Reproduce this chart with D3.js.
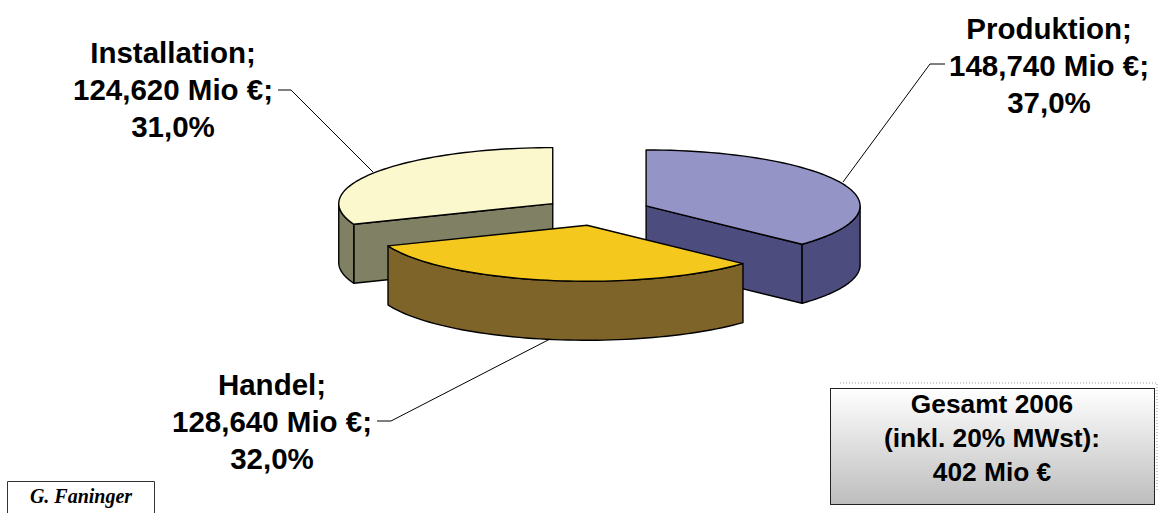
<!DOCTYPE html>
<html>
<head>
<meta charset="utf-8">
<script src="https://cdn.jsdelivr.net/npm/d3@7"></script>
<style>
html, body { margin: 0; background: #fff; }
svg { display: block; }
.label { font-family: "Liberation Sans", Arial, sans-serif; font-weight: bold; font-size: 29.5px; fill: #000; }
.total { font-family: "Liberation Sans", Arial, sans-serif; font-weight: bold; font-size: 26.3px; fill: #000; }
.author { font-family: "Liberation Serif", serif; font-weight: bold; font-style: italic; font-size: 20px; fill: #000; }
</style>
</head>
<body>
<svg id="chart" width="1159" height="513"></svg>
<script>
"use strict";

var categories = ["Produktion", "Handel", "Installation"],
    amounts = [148.740, 128.640, 124.620],
    amountLabels = ["148,740 Mio €;", "128,640 Mio €;", "124,620 Mio €;"],
    shareLabels = ["37,0%", "32,0%", "31,0%"],
    totalLines = ["Gesamt 2006", "(inkl. 20% MWst):", "402 Mio €"],
    authorName = "G. Faninger",

    topColours = ["#9594c7", "#f5c81e", "#fbf8cd"],
    sideColours = ["#4c4c7e", "#7f642a", "#808065"],

    centreX = 597,
    centreY = 211.5,
    radiusX = 214,
    radiusY = 56,
    depth = 59,
    explode = 0.25;

var svg = d3.select("#chart"),
    defs = svg.append("defs"),

    // unit circle onto the flattened pie
    xScale = d3.scaleLinear().domain([-1, 1]).range([centreX - radiusX, centreX + radiusX]),
    yScale = d3.scaleLinear().domain([-1, 1]).range([centreY - radiusY, centreY + radiusY]),

    slices = d3.pie().sort(null)(amounts);

var rim = function(angle, r) {
    return [Math.sin(angle) * r, -Math.cos(angle) * r];
};

var arcPoints = function(from, to) {
    var steps = 60;
    return d3.range(steps + 1).map(function(i) {
        return rim(from + (to - from) * i / steps, 1);
    });
};

var toPath = function(points, offset, dy) {
    return d3.line()
        .x(function(p) { return xScale(p[0] + offset[0]); })
        .y(function(p) { return yScale(p[1] + offset[1]) + dy; })(points);
};

var pieGroup = svg.append("g")
        .attr("stroke", "#000")
        .attr("stroke-width", 1.4)
        .attr("stroke-linejoin", "round");

var drawSlice = function(d) {
    var i = d.index,
        mid = (d.startAngle + d.endAngle) / 2,
        offset = rim(mid, explode),
        g = pieGroup.append("g"),
        apex = [[0, 0]];

    // radial walls, only the ones that face the viewer
    [d.startAngle, d.endAngle].forEach(function(a) {
        var edge = rim(a, 1);
        if (edge[1] < -0.99) return;
        if ((a === d.endAngle && Math.sin(a) > 0) || (a === d.startAngle && Math.sin(a) < 0)) {
            var top = apex.concat([edge]);
            g.append("path")
                .attr("fill", sideColours[i])
                .attr("d", toPath(top, offset, 0) + "L" + toPath(top.slice().reverse(), offset, depth).slice(1) + "Z");
        }
    });

    // outer wall, front half of the rim
    var from = Math.max(d.startAngle, Math.PI / 2),
        to = Math.min(d.endAngle, Math.PI * 1.5);
    if (from < to) {
        var outer = arcPoints(from, to);
        g.append("path")
            .attr("fill", sideColours[i])
            .attr("d", toPath(outer, offset, 0) + "L" + toPath(outer.slice().reverse(), offset, depth).slice(1) + "Z");
    }

    g.append("path")
        .attr("fill", topColours[i])
        .attr("d", toPath(apex.concat(arcPoints(d.startAngle, d.endAngle)), offset, 0) + "Z");
};

// back slices first, Handel sits in front
[slices[0], slices[2], slices[1]].forEach(drawSlice);

var leaderData = [
    [[843, 182], [930, 64], [945, 64]],
    [[550, 339], [391, 421], [377, 421]],
    [[373, 172], [291, 90], [278, 90]]
];

svg.append("g").selectAll("path")
    .data(leaderData)
    .join("path")
    .attr("fill", "none")
    .attr("stroke", "#000")
    .attr("stroke-width", 1)
    .attr("d", d3.line());

var labelAnchors = [[1049, 39], [272, 395], [173, 63]];

var labels = svg.append("g").selectAll("text")
    .data(categories)
    .join("text")
    .attr("class", "label")
    .attr("text-anchor", "middle")
    .attr("transform", function(d, i) {
        return "translate(" + labelAnchors[i][0] + "," + labelAnchors[i][1] + ")";
    });

labels.selectAll("tspan")
    .data(function(d, i) { return [d + ";", amountLabels[i], shareLabels[i]]; })
    .join("tspan")
    .attr("x", 0)
    .attr("y", function(d, i) { return i * 37; })
    .text(function(d) { return d; });

// total box
var gradient = defs.append("linearGradient")
    .attr("id", "boxFill")
    .attr("x1", 0).attr("y1", 0).attr("x2", 0).attr("y2", 1);
gradient.append("stop").attr("offset", "0%").attr("stop-color", "#ffffff");
gradient.append("stop").attr("offset", "100%").attr("stop-color", "#bdbdbd");

svg.append("path")
    .attr("d", d3.line()([[840, 383], [1157, 383], [1157, 492]]))
    .attr("fill", "none")
    .attr("stroke", "#999")
    .attr("stroke-dasharray", "1 2");

svg.append("rect")
    .attr("x", 830.5).attr("y", 388.5)
    .attr("width", 324).attr("height", 116)
    .attr("fill", "url(#boxFill)")
    .attr("stroke", "#222")
    .attr("stroke-width", 1);

svg.append("g").selectAll("text")
    .data(totalLines)
    .join("text")
    .attr("class", "total")
    .attr("text-anchor", "middle")
    .attr("x", 992)
    .attr("y", function(d, i) { return 413 + i * 34; })
    .text(function(d) { return d; });

// author stamp, bottom edge runs off the page
svg.append("path")
    .attr("d", d3.line()([[7.5, 513], [7.5, 481.5], [154.5, 481.5], [154.5, 513]]))
    .attr("fill", "none")
    .attr("stroke", "#333");

svg.append("text")
    .attr("class", "author")
    .attr("text-anchor", "middle")
    .attr("x", 81)
    .attr("y", 503)
    .text(authorName);
</script>
</body>
</html>
